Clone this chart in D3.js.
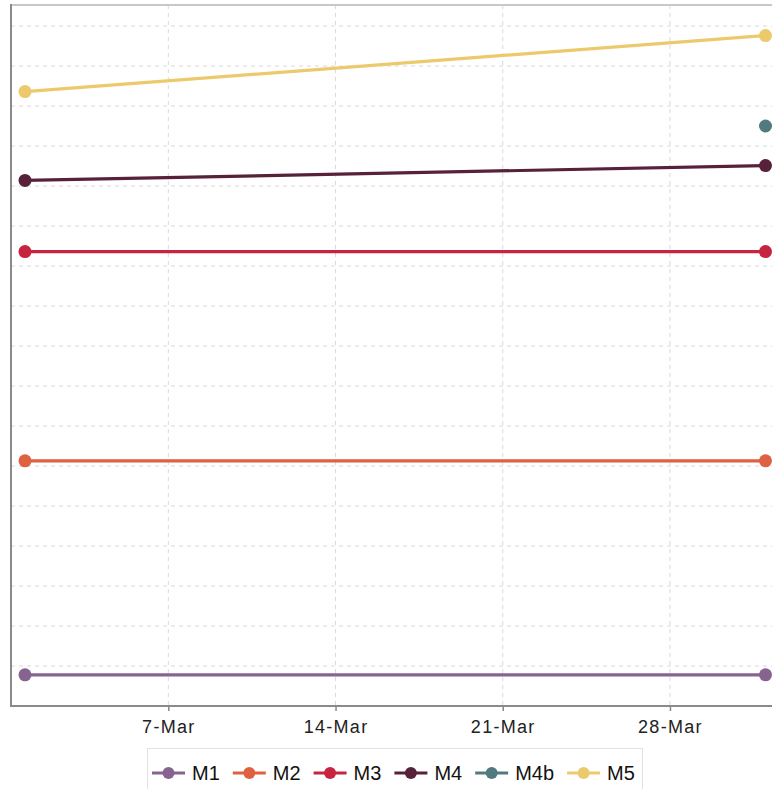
<!DOCTYPE html>
<html>
<head>
<meta charset="utf-8">
<script src="https://cdn.jsdelivr.net/npm/d3@7"></script>
<style>
  html, body { margin: 0; padding: 0; background: #fff; overflow: hidden; }
  svg { display: block; font-family: "Liberation Sans", Arial, sans-serif; }
</style>
</head>
<body>
<svg id="chart" width="772" height="789"></svg>
<script>
// ---- data ----
const dates = ["2020-03-01", "2020-04-01"];
const seriesNames = ["M1", "M2", "M3", "M4", "M4b", "M5"];
const seriesColors = ["#87638f", "#de6142", "#c6243f", "#57213a", "#507a7e", "#ecca6b"];
const M1 = [0.78, 0.78];
const M2 = [6.13, 6.13];
const M3 = [11.36, 11.36];
const M4 = [13.14, 13.51];
const M4b = [null, 14.5];
const M5 = [15.36, 16.76];
const tickDates = ["2020-03-07", "2020-03-14", "2020-03-21", "2020-03-28"];
const yGridValues = [1,2,3,4,5,6,7,8,9,10,11,12,13,14,15,16,17];

const seriesValues = [M1, M2, M3, M4, M4b, M5];
const parse = d3.timeParse("%Y-%m-%d");

// ---- layout ----
const svg = d3.select("#chart");
const plotLeft = 11, plotRight = 779, plotTop = 5, plotBottom = 706;

const x = d3.scaleTime()
  .domain([parse(dates[0]), parse(dates[1])])
  .range([25, 765.5]);
const y = d3.scaleLinear().domain([0, 17.525]).range([plotBottom, plotTop]);

// grid
const grid = svg.append("g");
grid.selectAll("line.h").data(yGridValues).enter().append("line")
  .attr("x1", plotLeft).attr("x2", plotRight)
  .attr("y1", d => y(d)).attr("y2", d => y(d))
  .attr("stroke", "#d9d9d9").attr("stroke-width", 1).attr("stroke-dasharray", "4,4");
grid.selectAll("line.v").data(tickDates.map(parse)).enter().append("line")
  .attr("x1", d => x(d)).attr("x2", d => x(d))
  .attr("y1", plotTop).attr("y2", plotBottom)
  .attr("stroke", "#d9d9d9").attr("stroke-width", 1).attr("stroke-dasharray", "4,4");

// top border
svg.append("line").attr("x1", plotLeft).attr("x2", 772).attr("y1", plotTop).attr("y2", plotTop)
  .attr("stroke", "#c8c8c8").attr("stroke-width", 2);

// series
const lineGen = d3.line()
  .defined(d => d.v !== null)
  .x(d => x(d.date)).y(d => y(d.v));

seriesValues.forEach((vals, i) => {
  const pts = vals.map((v, j) => ({ date: parse(dates[j]), v }));
  const g = svg.append("g");
  g.append("path").datum(pts)
    .attr("d", lineGen)
    .attr("fill", "none")
    .attr("stroke", seriesColors[i])
    .attr("stroke-width", 3.2);
  g.selectAll("circle").data(pts.filter(p => p.v !== null)).enter().append("circle")
    .attr("cx", d => x(d.date)).attr("cy", d => y(d.v))
    .attr("r", 6.5).attr("fill", seriesColors[i]);
});

// axes
const xAxis = d3.axisBottom(x)
  .tickValues(tickDates.map(parse))
  .tickFormat(d3.timeFormat("%-d-%b"))
  .tickSize(5).tickSizeOuter(0);
const gx = svg.append("g").attr("transform", `translate(0,${plotBottom})`).call(xAxis);
gx.select(".domain").remove();
gx.selectAll(".tick line").attr("stroke", "#888").attr("stroke-width", 1.5);
gx.selectAll(".tick text")
  .attr("y", 14)
  .attr("fill", "#222")
  .style("font-size", "18px")
  .style("letter-spacing", "1.3px")
  .style("font-family", "'Liberation Sans', Arial, sans-serif");

svg.append("line").attr("x1", plotLeft - 1).attr("x2", 772).attr("y1", plotBottom).attr("y2", plotBottom)
  .attr("stroke", "#8a8a8a").attr("stroke-width", 2);
svg.append("line").attr("x1", plotLeft).attr("x2", plotLeft).attr("y1", plotTop - 1).attr("y2", plotBottom)
  .attr("stroke", "#8a8a8a").attr("stroke-width", 2);

// legend
const legend = svg.append("g");
legend.append("rect")
  .attr("x", 147.5).attr("y", 748.5).attr("width", 495).attr("height", 50)
  .attr("fill", "#fff").attr("stroke", "#e2e2e2").attr("stroke-width", 1);

let lx = 152;
const ly = 773;
seriesNames.forEach((name, i) => {
  const item = legend.append("g");
  item.append("line").attr("x1", lx).attr("x2", lx + 33).attr("y1", ly).attr("y2", ly)
    .attr("stroke", seriesColors[i]).attr("stroke-width", 3.2);
  item.append("circle").attr("cx", lx + 16.5).attr("cy", ly).attr("r", 6).attr("fill", seriesColors[i]);
  const t = item.append("text").attr("x", lx + 40).attr("y", ly + 7)
    .attr("fill", "#111")
    .style("font-size", "20px")
    .text(name);
  const w = t.node().getComputedTextLength();
  lx = lx + 40 + w + 13;
});
</script>
</body>
</html>
